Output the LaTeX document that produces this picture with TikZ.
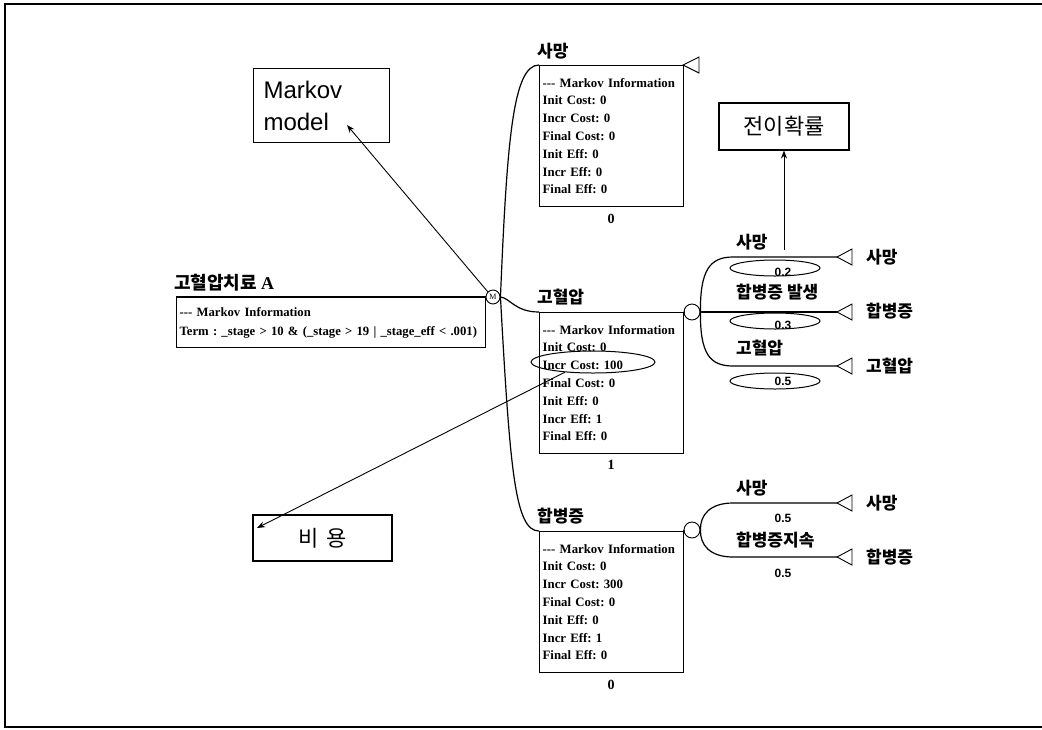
\documentclass[tikz,border=0pt]{standalone}
\usepackage{fontspec}
\setmainfont{Liberation Serif}
\newfontfamily\krfont{Noto Sans CJK KR}
\newfontfamily\arialfont{Liberation Sans}
\usetikzlibrary{arrows.meta,shapes.geometric}

\begin{document}
\frenchspacing
\hyphenpenalty=10000
\exhyphenpenalty=10000
\begin{tikzpicture}[x=1pt,y=-1pt,
  treeline/.style={line width=1.2pt},
  infobox/.style={draw, line width=1.3pt, anchor=north west, minimum width=144pt,
    minimum height=141pt, text width=138pt, inner xsep=3pt, inner ysep=0pt,
    align=left, font=\bfseries\fontsize{12.8}{17.8}\selectfont},
  klabel/.style={font=\krfont\bfseries\fontsize{17}{20}\selectfont, inner sep=0pt, anchor=west},
  prob/.style={font=\arialfont\bfseries\fontsize{12}{14}\selectfont, inner sep=0pt},
  probring/.style={draw, ellipse, line width=1pt, minimum width=90pt,
    minimum height=16pt, inner sep=0pt},
  chance/.style={draw, circle, line width=0.9pt, minimum size=16pt, inner sep=0pt},
  endtip/.style={line width=0.9pt},
  callout/.style={draw, line width=1.1pt, inner sep=0pt},
  pointer/.style={line width=0.9pt, -{Stealth[length=8pt,width=6pt]}},
  boxnum/.style={font=\bfseries\fontsize{14}{16}\selectfont, inner sep=0pt},
]
\useasboundingbox (0,0) rectangle (1042,729);

% outer frame
\draw[line width=1.6pt] (1042,4) -- (5,4) -- (5,727) -- (1042,727);

% root of the tree
\node[klabel, font=\krfont\bfseries\fontsize{18}{20}\selectfont] (rootlbl) at (174,283) {고혈압치료 {\rmfamily A}};
\node[draw, line width=1.3pt, anchor=north west, minimum width=309pt, minimum height=50pt,
  text width=303pt, inner xsep=3pt, inner ysep=0pt, align=left,
  font=\bfseries\fontsize{12.7}{19}\selectfont] (rootbox) at (176,297)
  {-{}-{}- Markov Information\\Term : \_stage > 10 \& (\_stage > 19 | \_stage\_eff < .001)};
\node[draw, circle, line width=0.9pt, minimum size=14pt, inner sep=0pt,
  font=\fontsize{8}{8}\selectfont] (mk) at (493,297) {M};
\draw[treeline] (rootbox.north west) -- (mk.west);

% Markov states
\node[infobox] (b1) at (539,65) {-{}-{}- Markov Information\\Init Cost: 0\\Incr Cost: 0\\Final Cost: 0\\Init Eff: 0\\Incr Eff: 0\\Final Eff: 0};
\node[infobox] (b2) at (539,312) {-{}-{}- Markov Information\\Init Cost: 0\\Incr Cost: 100\\Final Cost: 0\\Init Eff: 0\\Incr Eff: 1\\Final Eff: 0};
\node[infobox] (b3) at (539,531) {-{}-{}- Markov Information\\Init Cost: 0\\Incr Cost: 300\\Final Cost: 0\\Init Eff: 0\\Incr Eff: 1\\Final Eff: 0};

\node[klabel] (l1) at (537,51) {사망};
\node[klabel] (l2) at (537,297) {고혈압};
\node[klabel] (l3) at (537,516) {합병증};

\node[boxnum] (n1) at (611,219) {0};
\node[boxnum] (n2) at (611,465) {1};
\node[boxnum] (n3) at (611,685) {0};

\draw[treeline] (mk.east) .. controls (507,140) and (513,65) .. (b1.north west);
\draw[treeline] (mk.east) .. controls (510,298) and (515,312) .. (b2.north west);
\draw[treeline] (mk.east) .. controls (510,470) and (515,531) .. (b3.north west);

% absorbing state terminal
\coordinate (t1) at (683,65);
\draw[endtip] (t1) -- ++(16,-8) -- ++(0,16) -- cycle;

% chance nodes
\node[chance] (c2) at (692,312) {};
\node[chance] (c3) at (692,530) {};
\draw[treeline] (b2.north east) -- (c2.west);
\draw[treeline] (b3.north east) -- (c3.west);

% transitions from the hypertension state
\coordinate (s21) at (733,257);
\coordinate (s23) at (733,366);
\coordinate (e21) at (837,257);
\coordinate (e22) at (837,312);
\coordinate (e23) at (837,366);
\draw[treeline] (c2.east) .. controls (700,270) and (710,257) .. (s21) -- (e21);
\draw[treeline] (c2.east) -- (e22);
\draw[treeline] (c2.east) .. controls (700,354) and (710,366) .. (s23) -- (e23);
\foreach \e in {e21,e22,e23} \draw[endtip] (\e) -- ++(15,-8) -- ++(0,16) -- cycle;

\node[klabel] (a21) at (736,242) {사망};
\node[klabel] (a22) at (736,292) {합병증 발생};
\node[klabel] (a23) at (736,348) {고혈압};
\node[probring] (r21) at (775,268) {};
\node[probring] (r22) at (775,321) {};
\node[probring] (r23) at (775,381) {};
\node[prob] (p21) at (783,272) {0.2};
\node[prob] (p22) at (783,325) {0.3};
\node[prob] (p23) at (783,381) {0.5};
\node[klabel] (z21) at (866,257) {사망};
\node[klabel] (z22) at (866,311) {합병증};
\node[klabel] (z23) at (866,366) {고혈압};

% transitions from the complication state
\coordinate (s31) at (733,503);
\coordinate (s32) at (733,557);
\coordinate (e31) at (837,503);
\coordinate (e32) at (837,557);
\draw[treeline] (c3.east) .. controls (700,515) and (710,503) .. (s31) -- (e31);
\draw[treeline] (c3.east) .. controls (700,545) and (710,557) .. (s32) -- (e32);
\foreach \e in {e31,e32} \draw[endtip] (\e) -- ++(15,-8) -- ++(0,16) -- cycle;

\node[klabel] (a31) at (736,488) {사망};
\node[klabel] (a32) at (736,540) {합병증지속};
\node[prob] (p31) at (783,518) {0.5};
\node[prob] (p32) at (783,573) {0.5};
\node[klabel] (z31) at (866,503) {사망};
\node[klabel] (z32) at (866,557) {합병증};

% annotations
\node[draw, ellipse, line width=1pt, minimum width=124pt, minimum height=22pt, inner sep=0pt] (ic) at (593,362) {};

\node[callout, anchor=north west, minimum width=136pt, minimum height=74pt, text width=116pt,
  inner xsep=10pt, align=left, font=\arialfont\fontsize{24}{32}\selectfont] (mm) at (253,68) {Markov\\model};
\node[callout, minimum width=130pt, minimum height=47pt,
  font=\krfont\fontsize{22}{26}\selectfont] (tp) at (784,126.5) {전이확률};
\node[callout, minimum width=139pt, minimum height=46pt,
  font=\krfont\fontsize{22}{26}\selectfont] (bc) at (322.5,538) {비\kern8pt 용};

\coordinate (mmtip) at (347,125);
\coordinate (tpfoot) at (784,250);
\coordinate (bctip) at (257,528);
\draw[pointer] (mk.north west) -- (mmtip);
\draw[pointer] (tpfoot) -- (tp.south);
\draw[pointer] (ic.200) -- (bctip);

\end{tikzpicture}
\end{document}
